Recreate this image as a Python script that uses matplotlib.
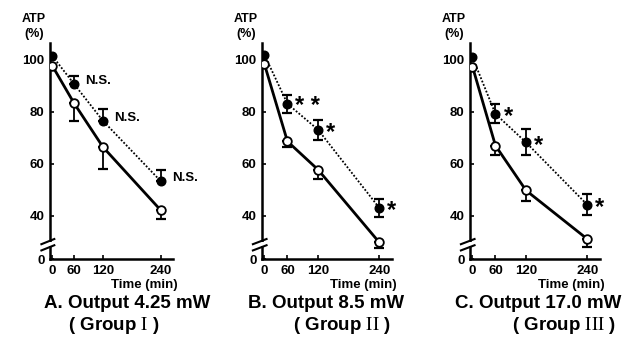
import numpy as np
import matplotlib
matplotlib.use("Agg")
import matplotlib.pyplot as plt
from matplotlib.patches import Rectangle

plt.rcParams['font.family'] = ['Liberation Sans', 'DejaVu Sans']
plt.rcParams['mathtext.fontset'] = 'stix'

times = [0, 60, 120, 240]

a_closed     = [101.5, 90.7, 76.5, 53.2]
a_closed_err = [0, 3.0, 4.5, 4.2]
a_open       = [97.7, 83.3, 66.4, 42.0]
a_open_err   = [0, 6.8, 8.3, 3.3]

b_closed     = [101.9, 83.1, 73.1, 43.0]
b_closed_err = [0, 3.5, 3.8, 3.5]
b_open       = [98.3, 68.6, 57.7, 29.7]
b_open_err   = [0, 2.3, 3.5, 2.2]

c_closed     = [101.0, 79.2, 68.2, 44.2]
c_closed_err = [0, 3.7, 5.0, 4.0]
c_open       = [97.4, 67.0, 49.7, 31.0]
c_open_err   = [0, 3.5, 4.2, 3.0]

a_marks = ["N.S.", "N.S.", "N.S."]
b_marks = ["* *", "*", "*"]
c_marks = ["*", "*", "*"]

titles = ["A. Output 4.25 mW", "B. Output 8.5 mW", "C. Output 17.0 mW"]
groups = [r"( Group $\mathrm{I}$ )", r"( Group $\mathrm{II}$ )", r"( Group $\mathrm{III}$ )"]

y_ticks = [0, 40, 60, 80, 100]
x_ticks = [0, 60, 120, 240]

# broken axes: squeeze 0..60 min and 0..25 %
X0 = 15.0
Y0 = 23.3

def fwd_x(x):
    x = np.asarray(x, float)
    return np.where(x < 60, X0 + x * (60 - X0) / 60, x)

def inv_x(s):
    s = np.asarray(s, float)
    return np.where(s < 60, (s - X0) * 60 / (60 - X0), s)

def fwd_y(y):
    y = np.asarray(y, float)
    return np.where(y < 25, Y0 + y * (25 - Y0) / 25, y)

def inv_y(s):
    s = np.asarray(s, float)
    return np.where(s < 25, (s - Y0) * 25 / (25 - Y0), s)

W, H = 629, 345
fig = plt.figure(figsize=(W / 100, H / 100), dpi=100)

# left px, width px (top 43, bottom 259)
boxes = [(50, 123), (262, 130), (470, 130)]
panels = [
    (a_closed, a_closed_err, True, a_open, a_open_err, a_marks),
    (b_closed, b_closed_err, False, b_open, b_open_err, b_marks),
    (c_closed, c_closed_err, False, c_open, c_open_err, c_marks),
]

for i, ((l, w), (cl, cl_err, up_only, op, op_err, marks)) in enumerate(zip(boxes, panels)):
    ax = fig.add_axes([l / W, 1 - 259 / H, w / W, 216 / H])
    ax.set_xscale('function', functions=(fwd_x, inv_x))
    ax.set_yscale('function', functions=(fwd_y, inv_y))

    lo = [0] * len(cl_err) if up_only else cl_err
    ax.errorbar(times, cl, yerr=[lo, cl_err], fmt='none', ecolor='black',
                elinewidth=1.3, capsize=3.4, capthick=1.6, zorder=2)
    ax.errorbar(times, op, yerr=[op_err, [0] * len(op_err)], fmt='none', ecolor='black',
                elinewidth=1.3, capsize=3.4, capthick=1.6, zorder=2)
    ax.plot(times, cl, linestyle=(0, (1, 1)), color='black', linewidth=1.3,
            marker='o', markersize=6.2, markerfacecolor='black', markeredgecolor='black', zorder=3)
    ax.plot(times, op, linestyle='-', color='black', linewidth=2.0,
            marker='o', markersize=6.2, markerfacecolor='white', markeredgecolor='black',
            markeredgewidth=1.3, zorder=4)

    for t, v, m in zip(times[1:], cl[1:], marks):
        if m == "N.S.":
            ax.annotate(m, (t, v), xytext=(11, 3), textcoords='offset pixels',
                        ha='left', va='center', fontsize=9.5, fontweight='bold')
        else:
            ax.annotate(m, (t, v), xytext=(8, -3), textcoords='offset pixels',
                        ha='left', va='center', fontsize=17, fontweight='bold')

    ax.set_xlim(-6.5, 265)
    ax.set_ylim(0, 106.5)
    ax.set_xticks(x_ticks)
    ax.set_xticklabels([str(t) for t in x_ticks])
    ax.set_yticks(y_ticks)
    ax.set_yticklabels([str(t) for t in y_ticks])
    ax.tick_params(direction='in', length=3, width=1.2, labelsize=9.5, pad=4)
    for lab in ax.get_xticklabels() + ax.get_yticklabels():
        lab.set_fontweight('bold')
    for side in ['top', 'right']:
        ax.spines[side].set_visible(False)
    for side in ['left', 'bottom']:
        ax.spines[side].set_linewidth(1.8)

    # axis break marks
    tr = ax.get_yaxis_transform()
    ax.add_patch(Rectangle((-0.03, 28.3), 0.06, 1.5, transform=tr, facecolor='white',
                           edgecolor='none', clip_on=False, zorder=5))
    for yb in (27.6, 30.0):
        ax.plot([-0.07, 0.035], [yb - 1.0, yb + 1.0], transform=tr, color='black',
                linewidth=1.5, clip_on=False, zorder=6)

    ax.annotate("ATP", (0, 1), xycoords='axes fraction', xytext=(-16, 24),
                textcoords='offset pixels', ha='center', va='center',
                fontsize=9, fontweight='bold')
    ax.annotate("(%)", (0, 1), xycoords='axes fraction', xytext=(-16, 9),
                textcoords='offset pixels', ha='center', va='center',
                fontsize=9, fontweight='bold')
    ax.annotate("Time (min)", (1, 0), xycoords='axes fraction', xytext=(5, -26),
                textcoords='offset pixels', ha='right', va='center',
                fontsize=9.5, fontweight='bold')

title_x = [127, 326, 538]
group_x = [114, 342, 564]
for tx, gx, t, g in zip(title_x, group_x, titles, groups):
    fig.text(tx / W, 1 - 303 / H, t, ha='center', va='center', fontsize=13.5, fontweight='bold')
    fig.text(gx / W, 1 - 326 / H, g, ha='center', va='center', fontsize=13.5, fontweight='bold')

fig.savefig("out.png", dpi=100, facecolor='white')
